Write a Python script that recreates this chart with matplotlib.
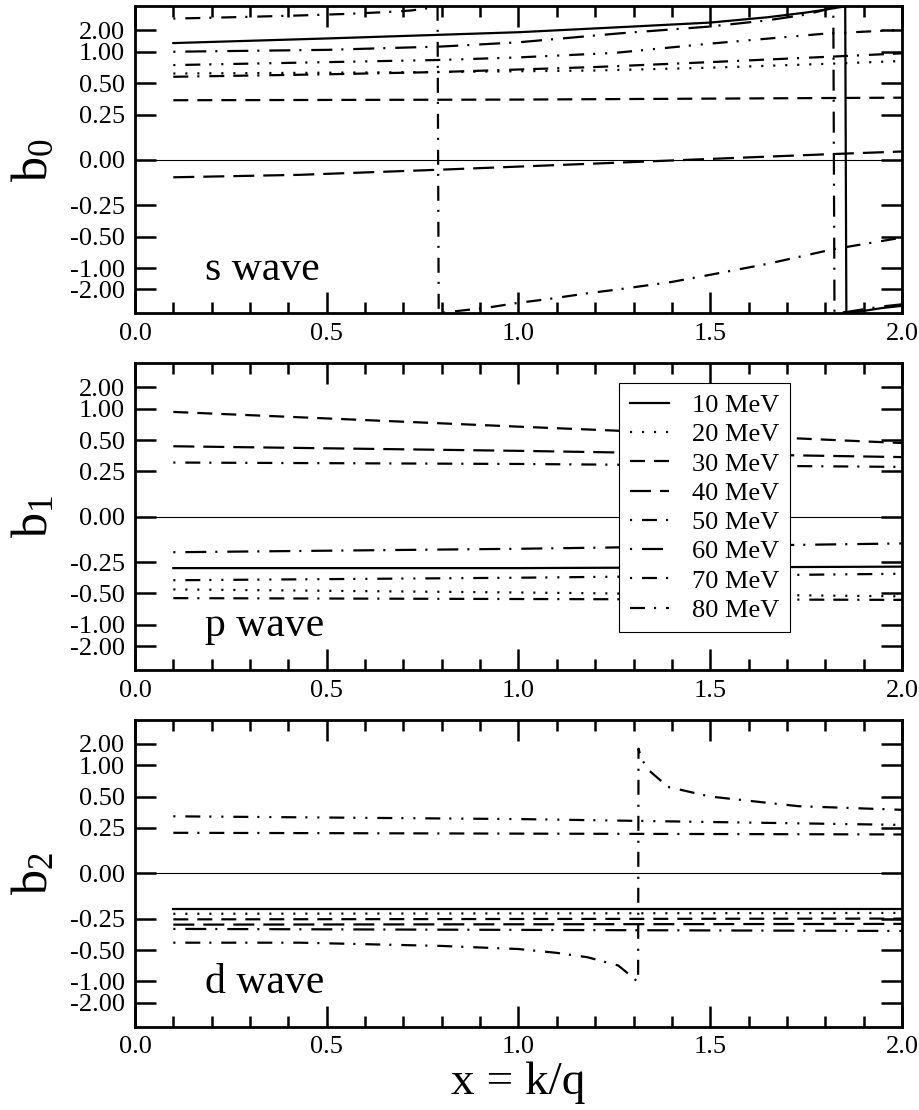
import numpy as np
import matplotlib
matplotlib.use('Agg')
import matplotlib.pyplot as plt
from matplotlib.ticker import FixedLocator, MultipleLocator, FuncFormatter, NullLocator

plt.rcParams['font.family'] = ['Liberation Serif', 'DejaVu Serif']
plt.rcParams['mathtext.default'] = 'regular'
plt.rcParams['lines.scale_dashes'] = False

energies = [10, 20, 30, 40, 50, 60, 70, 80]
labels = ['%d MeV' % e for e in energies]

# s wave (b0); poles are written as +/-1e3 on either side
s10_x = [0.1, 0.5, 1.0, 1.3, 1.5, 1.65, 1.75, 1.8, 1.83, 1.852, 1.855, 1.9, 1.95, 2.0]
s10_y = [1.27, 1.47, 1.85, 2.4, 3.0, 4.5, 8, 15, 40, 1e3, -1e3, -20, -9, -6.5]
s20_x = [0.1, 0.5, 0.8, 1.2, 1.5, 1.8, 2.0]
s20_y = [0.61, 0.62, 0.63, 0.65, 0.69, 0.75, 0.80]
s30_x = [0.1, 1.0, 2.0]
s30_y = [0.35, 0.355, 0.37]
s40_x = [0.1, 0.43, 0.8, 1.21, 1.5, 1.82, 2.0]
s40_y = [-0.09, -0.077, -0.05, -0.018, 0.005, 0.03, 0.043]
s50_x = [0.1, 0.2, 0.3, 0.43, 0.55, 0.65, 0.72, 0.76, 0.785, 0.789, 0.792, 0.84, 0.92,
         1.0, 1.07, 1.18, 1.26, 1.4, 1.5, 1.65, 1.82, 2.0]
s50_y = [4.0, 4.3, 4.7, 5.4, 6.5, 8.5, 12, 25, 150, 1e3, -1e3, -21, -8.5,
         -4.6, -3.5, -2.4, -2.0, -1.5, -1.2, -0.9, -0.65, -0.51]
s60_x = [0.1, 0.5, 0.8, 1.0, 1.26, 1.5, 1.65, 1.75, 1.8, 1.821, 1.824, 1.86, 1.9, 1.95, 2.0]
s60_y = [1.0, 1.05, 1.15, 1.3, 1.76, 2.4, 3.5, 6, 15, 1e3, -1e3, -30, -12, -7, -5.4]
s70_x = [0.1, 0.5, 0.8, 1.0, 1.25, 1.5, 1.8, 2.0]
s70_y = [0.73, 0.78, 0.82, 0.87, 0.97, 1.25, 1.75, 2.05]
s80_x = [0.1, 0.5, 0.8, 1.2, 1.5, 1.8, 2.0]
s80_y = [0.57, 0.60, 0.63, 0.70, 0.78, 0.88, 0.96]

# p wave (b1)
p10_x, p10_y = [0.1, 1.0, 2.0], [-0.29, -0.29, -0.28]
p20_x, p20_y = [0.1, 1.0, 2.0], [-0.46, -0.49, -0.53]
p30_x, p30_y = [0.1, 0.5, 1.0, 1.5, 2.0], [0.92, 0.79, 0.66, 0.56, 0.47]
p40_x, p40_y = [0.1, 1.0, 2.0], [0.44, 0.40, 0.35]
p50_x, p50_y = [0.1, 1.0, 2.0], [0.31, 0.30, 0.28]
p60_x, p60_y = [0.1, 1.0, 2.0], [-0.19, -0.17, -0.14]
p70_x, p70_y = [0.1, 1.0, 2.0], [-0.38, -0.36, -0.33]
p80_x, p80_y = [0.1, 1.0, 2.0], [-0.55, -0.56, -0.57]

# d wave (b2)
d10_x, d10_y = [0.1, 2.0], [-0.19, -0.19]
d20_x, d20_y = [0.1, 2.0], [-0.22, -0.215]
d30_x, d30_y = [0.1, 2.0], [-0.255, -0.25]
d40_x, d40_y = [0.1, 2.0], [-0.29, -0.285]
d50_x = [0.1, 0.43, 0.8, 1.0, 1.1, 1.18, 1.26, 1.29, 1.312, 1.313, 1.32, 1.34, 1.39, 1.5, 1.73, 2.0]
d50_y = [-0.43, -0.43, -0.46, -0.49, -0.53, -0.58, -0.69, -0.85, -1.02, 1.65, 1.2, 0.88, 0.61, 0.50, 0.41, 0.38]
d60_x, d60_y = [0.1, 2.0], [-0.32, -0.335]
d70_x, d70_y = [0.1, 1.0, 2.0], [0.33, 0.31, 0.27]
d80_x, d80_y = [0.1, 1.0, 2.0], [0.22, 0.215, 0.21]

yticks = [-2.0, -1.0, -0.5, -0.25, 0.0, 0.25, 0.5, 1.0, 2.0]

# grace-like dash patterns, in points
u = 2.16
dot = 1.5
styles = [
    '-',
    (0, (dot, 4 * u - dot)),
    (0, (5 * u, 3 * u)),
    (0, (7 * u, 3 * u)),
    (0, (dot, 4 * u - dot, 5 * u, 3 * u)),
    (0, (dot, 4 * u - dot, 7 * u, 3 * u)),
    (0, (dot, 4 * u - dot, 5 * u, 3 * u, dot, 4 * u - dot)),
    (0, (5 * u, 3 * u, dot, 4 * u - dot, 5 * u, 3 * u)),
]

panels = [
    ('s wave', '$b_0$', [(s10_x, s10_y), (s20_x, s20_y), (s30_x, s30_y), (s40_x, s40_y),
                         (s50_x, s50_y), (s60_x, s60_y), (s70_x, s70_y), (s80_x, s80_y)]),
    ('p wave', '$b_1$', [(p10_x, p10_y), (p20_x, p20_y), (p30_x, p30_y), (p40_x, p40_y),
                         (p50_x, p50_y), (p60_x, p60_y), (p70_x, p70_y), (p80_x, p80_y)]),
    ('d wave', '$b_2$', [(d10_x, d10_y), (d20_x, d20_y), (d30_x, d30_y), (d40_x, d40_y),
                         (d50_x, d50_y), (d60_x, d60_y), (d70_x, d70_y), (d80_x, d80_y)]),
]


def fwd(y):
    return np.arctan(2 * np.asarray(y))


def inv(t):
    return np.tan(np.asarray(t)) / 2


fig = plt.figure(figsize=(9.2, 11.1), dpi=100)
bottoms = [0.7177, 0.3962, 0.0750]
axes = []
for (name, ylab, series), b in zip(panels, bottoms):
    ax = fig.add_axes([0.1467, b, 0.8337, 0.2765])
    ax.set_yscale('function', functions=(fwd, inv))
    lines = []
    for (xs, ys), ls, lab in zip(series, styles, labels):
        ln, = ax.plot(xs, ys, color='black', lw=1.6, linestyle=ls, label=lab)
        lines.append(ln)
    ax.axhline(0, color='black', lw=0.8)
    ax.set_xlim(0, 2)
    ax.set_ylim(-1e6, 1e6)
    ax.yaxis.set_major_locator(FixedLocator(yticks))
    ax.yaxis.set_minor_locator(NullLocator())
    ax.yaxis.set_major_formatter(FuncFormatter(lambda v, p: '%.2f' % v))
    ax.xaxis.set_major_locator(MultipleLocator(0.5))
    ax.xaxis.set_minor_locator(MultipleLocator(0.1))
    ax.xaxis.set_major_formatter(FuncFormatter(lambda v, p: '%.1f' % v))
    ax.tick_params(which='both', direction='in', top=True, right=True, width=1.8,
                   labelsize=19, pad=7)
    ax.tick_params(which='major', length=15)
    ax.tick_params(which='minor', length=8)
    for sp in ax.spines.values():
        sp.set_linewidth(2.0)
    ax.set_ylabel(ylab, fontsize=36)
    ax.yaxis.set_label_coords(-0.1, 0.5)
    ax.text(0.091, 0.11, name, transform=ax.transAxes, fontsize=30, va='baseline')
    axes.append((ax, lines))

ax2, lines2 = axes[1]
leg = ax2.legend(lines2, labels, loc='upper left', bbox_to_anchor=(0.6315, 0.936),
                 borderaxespad=0, fontsize=19, fancybox=False, framealpha=1,
                 edgecolor='black', handlelength=1.5, handletextpad=0.87,
                 labelspacing=0.22, borderpad=0.4)
leg.get_frame().set_linewidth(0.8)

ax3 = axes[2][0]
ax3.set_xlabel('x = k/q', fontsize=34, labelpad=2)

fig.savefig('out.png', dpi=100)
